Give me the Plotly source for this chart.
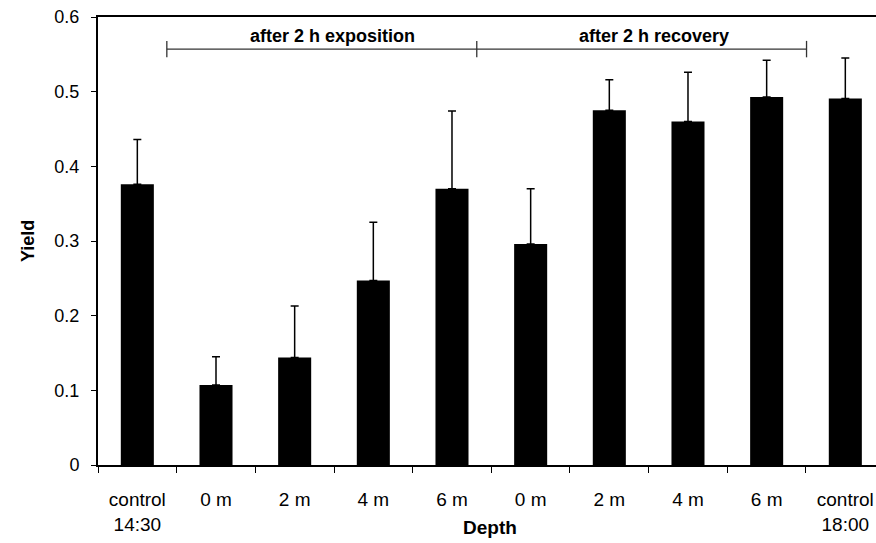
import plotly.graph_objects as go

tick_labels = ["control<br>14:30", "0 m", "2 m", "4 m", "6 m",
               "0 m", "2 m", "4 m", "6 m", "control<br>18:00"]
yield_values = [0.376, 0.107, 0.144, 0.247, 0.370, 0.296, 0.475, 0.460, 0.493, 0.491]
yield_errors = [0.060, 0.038, 0.069, 0.078, 0.104, 0.074, 0.041, 0.066, 0.049, 0.054]
group_labels = ["after 2 h exposition", "after 2 h recovery"]
x_title = "Depth"
y_title = "Yield"

xpos = list(range(len(tick_labels)))
FONT = "Liberation Sans, Arial, sans-serif"

fig = go.Figure()
fig.add_trace(go.Bar(
    x=xpos, y=yield_values, width=0.42,
    marker=dict(color="black", line=dict(width=0)),
    error_y=dict(type="data", array=yield_errors, arrayminus=[0] * len(yield_errors),
                 symmetric=False, color="black", thickness=1.5, width=4),
))

# bracket over the two treatment groups
by = 0.557
br_left, br_mid, br_right = 0.375, 4.315, 8.507
line = dict(color="#333", width=1.3)
fig.add_shape(type="line", x0=br_left, x1=br_right, y0=by, y1=by, line=line)
for bx in (br_left, br_mid, br_right):
    fig.add_shape(type="line", x0=bx, x1=bx, y0=by - 0.011, y1=by + 0.011, line=line)

for lbl, gx in zip(group_labels, (2.48, 6.57)):
    fig.add_annotation(x=gx, y=0.5746, text=f"<b>{lbl}</b>", showarrow=False,
                       font=dict(family=FONT, size=18, color="black"),
                       xanchor="center", yanchor="middle")

fig.add_annotation(xref="paper", yref="paper", x=0.504, y=-0.14, text=f"<b>{x_title}</b>",
                   showarrow=False, font=dict(family=FONT, size=19, color="black"),
                   xanchor="center", yanchor="middle")
fig.add_annotation(xref="paper", yref="paper", x=-0.09, y=0.5, text=f"<b>{y_title}</b>",
                   textangle=-90, showarrow=False, font=dict(family=FONT, size=18, color="black"),
                   xanchor="center", yanchor="middle")

fig.update_layout(
    width=876, height=543,
    margin=dict(l=98, r=0, t=17, b=78),
    paper_bgcolor="white", plot_bgcolor="white",
    showlegend=False,
    font=dict(family=FONT, color="black"),
    xaxis=dict(
        range=[-0.5, 9.39], tickvals=xpos, ticktext=tick_labels,
        ticks="outside", ticklen=16, tickcolor="rgba(0,0,0,0)",
        tickfont=dict(size=19, color="black"),
        showline=True, linecolor="black", linewidth=2, mirror=True,
        showgrid=False, zeroline=False,
        minor=dict(tickvals=[i - 0.5 for i in range(len(tick_labels) + 1)],
                   ticks="outside", ticklen=6, tickcolor="black", tickwidth=1, showgrid=False),
    ),
    yaxis=dict(
        range=[0, 0.6], tickvals=[0, 0.1, 0.2, 0.3, 0.4, 0.5, 0.6],
        ticktext=["0", "0.1", "0.2", "0.3", "0.4", "0.5", "0.6"],
        ticks="outside", ticklen=5, tickcolor="black", tickwidth=1,
        ticklabelstandoff=8,
        tickfont=dict(size=18, color="black"),
        showline=True, linecolor="black", linewidth=2,
        showgrid=False, zeroline=False,
    ),
)

fig.write_html("out.html")
